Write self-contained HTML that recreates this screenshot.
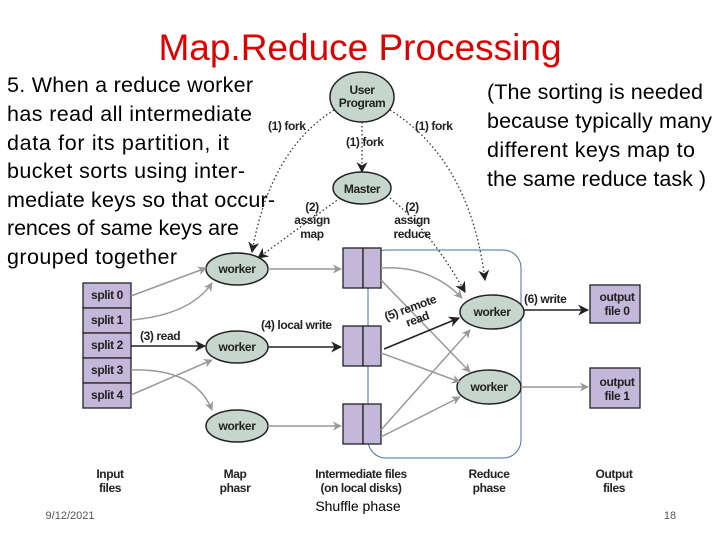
<!DOCTYPE html>
<html><head><meta charset="utf-8"><style>
body{margin:0;width:720px;height:540px;background:#fff;overflow:hidden;font-family:"Liberation Sans",sans-serif}
</style></head><body>
<svg width="720" height="540" viewBox="0 0 720 540" xmlns="http://www.w3.org/2000/svg">
<defs>
<marker id="ag" viewBox="0 0 10 10" refX="9" refY="5" markerWidth="9" markerHeight="9" orient="auto" markerUnits="userSpaceOnUse"><path d="M0,0 L10,5 L0,10 L3,5z" fill="#999"/></marker>
<marker id="ak" viewBox="0 0 10 10" refX="9" refY="5" markerWidth="11" markerHeight="11" orient="auto" markerUnits="userSpaceOnUse"><path d="M0,0 L10,5 L0,10 L3,5z" fill="#222"/></marker>
</defs>
<text x="360" y="60" font-size="37" fill="#e00000" text-anchor="middle">Map.Reduce Processing</text>
<g font-size="21.5" fill="#000">
<text x="7" y="92" textLength="246">5. When a reduce worker</text>
<text x="7" y="121" textLength="245">has read all intermediate</text>
<text x="7" y="150" textLength="222">data for its partition, it</text>
<text x="7" y="178" textLength="238">bucket sorts using inter-</text>
<text x="7" y="207" textLength="268">mediate keys so that occur-</text>
<text x="7" y="235" textLength="232">rences of same keys are</text>
<text x="7" y="264" textLength="170">grouped together</text>
<text x="487" y="99" textLength="216">(The sorting is needed</text>
<text x="487" y="128" textLength="225">because typically many</text>
<text x="487" y="157" textLength="208">different keys map to</text>
<text x="487" y="186" textLength="219">the same reduce task )</text>
</g>
<g fill="none" stroke="#333" stroke-width="1.3" stroke-dasharray="1.5,2.5">
<path d="M334,110 Q270,150 252,252" marker-end="url(#ak)"/>
<path d="M362,122 L362,172" marker-end="url(#ak)"/>
<path d="M390,110 Q470,160 485,280" marker-end="url(#ak)"/>
<path d="M340,198 L258,258" marker-end="url(#ak)"/>
<path d="M390,198 Q430,230 465,292" marker-end="url(#ak)"/>
</g>
<rect x="368" y="250" width="153" height="208" rx="18" fill="none" stroke="#4a6fa0" stroke-width="1"/>
<g fill="#c6d6cc" stroke="#222" stroke-width="1.5">
<ellipse cx="362" cy="97" rx="32" ry="25"/>
<ellipse cx="362" cy="188" rx="29" ry="16"/>
<ellipse cx="237" cy="269" rx="31" ry="16"/>
<ellipse cx="237" cy="347" rx="31" ry="16"/>
<ellipse cx="237" cy="426" rx="31" ry="16"/>
<ellipse cx="492" cy="312" rx="32" ry="17"/>
<ellipse cx="489" cy="387" rx="32" ry="17"/>
</g>
<g fill="#c3b8da" stroke="#222" stroke-width="1.3">
<rect x="83" y="283" width="48" height="25"/><rect x="83" y="308" width="48" height="25"/>
<rect x="83" y="333" width="48" height="25"/><rect x="83" y="358" width="48" height="25"/>
<rect x="83" y="383" width="48" height="25"/>
<rect x="343" y="248" width="20" height="40"/><rect x="363" y="248" width="18" height="40"/>
<rect x="343" y="326" width="20" height="40"/><rect x="363" y="326" width="18" height="40"/>
<rect x="343" y="404" width="20" height="40"/><rect x="363" y="404" width="18" height="40"/>
<rect x="590" y="285" width="50" height="38"/><rect x="590" y="368" width="50" height="40"/>
</g>
<g fill="none" stroke="#999" stroke-width="1.5" marker-end="url(#ag)">
<path d="M131,296 L206,268"/>
<path d="M131,320 Q190,315 212,283"/>
<path d="M131,395 L212,360"/>
<path d="M131,370 Q195,368 212,410"/>
<path d="M268,269 L341,269"/>
<path d="M268,426 L341,426"/>
<path d="M381,268 Q430,265 462,298"/>
<path d="M381,280 L470,372"/>
<path d="M381,353 L460,382"/>
<path d="M381,430 L470,330"/>
<path d="M381,437 L460,397"/>
<path d="M521,387 L588,387"/>
</g>
<g fill="none" stroke="#222" stroke-width="1.5" marker-end="url(#ak)">
<path d="M131,346 L205,346"/>
<path d="M268,347 L341,347"/>
<path d="M384,349 L459,318"/>
<path d="M524,310 L588,310"/>
</g>
<g font-size="12" fill="#222" font-weight="bold" text-anchor="middle" letter-spacing="-0.4">
<text x="362" y="94">User</text><text x="362" y="107">Program</text>
<text x="362" y="193">Master</text>
<text x="237" y="273">worker</text><text x="237" y="351">worker</text><text x="237" y="430">worker</text>
<text x="492" y="316">worker</text><text x="489" y="391">worker</text>
<text x="107" y="299">split 0</text><text x="107" y="324">split 1</text><text x="107" y="349">split 2</text>
<text x="107" y="374">split 3</text><text x="107" y="399">split 4</text>
<text x="617" y="301">output</text><text x="617" y="315">file 0</text>
<text x="617" y="386">output</text><text x="617" y="400">file 1</text>
<text x="110" y="478">Input</text><text x="110" y="492">files</text>
<text x="235" y="478">Map</text><text x="235" y="492">phasr</text>
<text x="361" y="478">Intermediate files</text><text x="361" y="492">(on local disks)</text>
<text x="489" y="478">Reduce</text><text x="489" y="492">phase</text>
<text x="614" y="478">Output</text><text x="614" y="492">files</text>
</g>
<g font-size="12" fill="#222" font-weight="bold" letter-spacing="-0.4">
<text x="268" y="130">(1) fork</text><text x="415" y="130">(1) fork</text>
<text x="346" y="146">(1) fork</text>
<text x="312" y="211" text-anchor="middle">(2)</text><text x="312" y="224" text-anchor="middle">assign</text><text x="312" y="238" text-anchor="middle">map</text>
<text x="412" y="211" text-anchor="middle">(2)</text><text x="412" y="224" text-anchor="middle">assign</text><text x="412" y="238" text-anchor="middle">reduce</text>
<text x="140" y="340">(3) read</text>
<text x="261" y="329">(4) local write</text>
<text x="524" y="303">(6) write</text>
<g transform="rotate(-20 410 310)"><text x="384" y="312">(5) remote</text><text x="402" y="325">read</text></g>
</g>
<text x="358" y="511" font-size="14" text-anchor="middle">Shuffle phase</text>
<text x="70" y="519" font-size="11" fill="#555" text-anchor="middle">9/12/2021</text>
<text x="670" y="519" font-size="11" fill="#555" text-anchor="middle">18</text>
</svg>
</body></html>
